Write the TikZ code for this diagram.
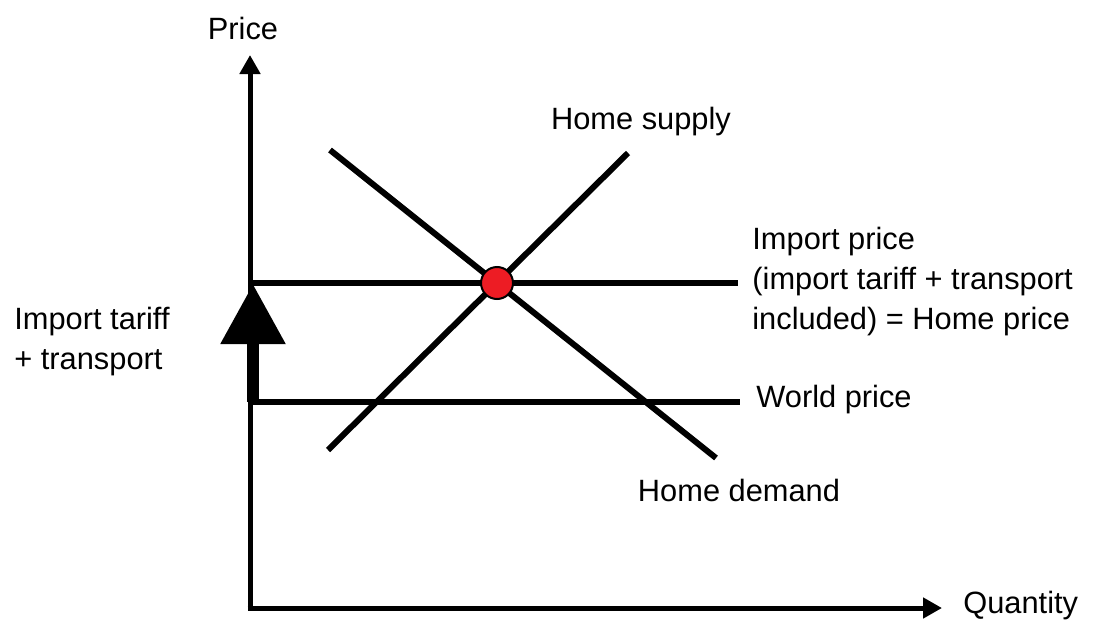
\documentclass[tikz,border=0pt]{standalone}
\usepackage{fontspec}
\setmainfont{Liberation Sans}
\usetikzlibrary{arrows.meta}

\tikzset{
  curve/.style={line width=3pt},
  axis/.style={line width=2.5pt,-{Triangle[length=9.5pt,width=10pt]}},
  lbl/.style={font=\fontsize{15.4}{20}\selectfont,inner sep=0pt}
}

\begin{document}
\begin{tikzpicture}[x=0.5pt,y=-0.5pt]
		% picture is laid out in pixel units of the original drawing
		\useasboundingbox (0,0) rectangle (1098,621);
		
		\coordinate (origin) at (250,608);
		\coordinate (ytop) at (250,55);
		\coordinate (xend) at (942,608);
		\draw[axis] (origin) -- (ytop);
		\draw[axis] ([xshift=-1.25pt]origin) -- (xend);
		\node[lbl] (price) at (243,28) {Price};
		\node[lbl,anchor=west] (quantity) at (963,606) {Quantity};
		
		% price levels
		\coordinate (impL) at (250,283);
		\coordinate (impR) at (738,283);
		\coordinate (worL) at (250,402);
		\coordinate (worR) at (740,402);
		\draw[curve] (impL) -- (impR);
		\draw[curve] (worL) -- (worR);
		
		% supply and demand
		\coordinate (s0) at (328,450);
		\coordinate (s1) at (628,153);
		\coordinate (d0) at (330,150);
		\coordinate (d1) at (716,458);
		\draw[curve] (s0) -- (s1);
		\draw[curve] (d0) -- (d1);
		
		% tariff arrow
		\coordinate (tarB) at (253,402);
		\coordinate (tarT) at (253,284);
		\draw[line width=6pt,-{Triangle[length=30pt,width=31pt]}] (tarB) -- (tarT);
		
		\node[circle,fill={rgb,255:red,237;green,28;blue,36},draw=black,line width=1pt,
		      minimum size=16pt,inner sep=0pt] (equil) at (497,283) {};
		
		\node[lbl] (supply) at (641,122) {Home supply};
		\node[lbl] (demand) at (739,490) {Home demand};
		\node[lbl,anchor=west,align=left] (imp) at (752,282)
		     {Import price\\(import tariff + transport\\included) = Home price};
		\node[lbl,anchor=west] (world) at (756,400) {World price};
		\node[lbl,anchor=west,align=left] (tariff) at (14,342)
		     {Import tariff\\+ transport};
\end{tikzpicture}
\end{document}
